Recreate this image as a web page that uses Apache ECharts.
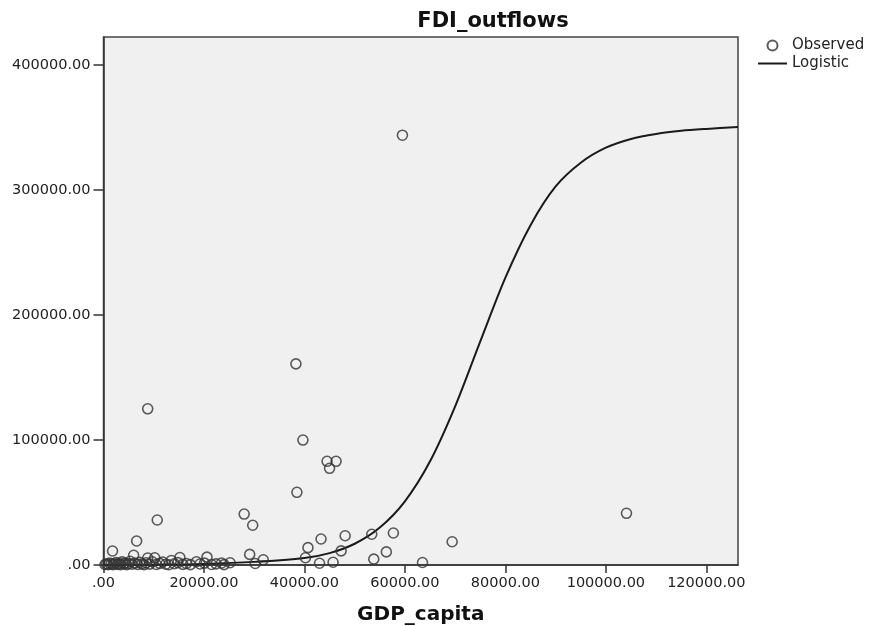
<!DOCTYPE html>
<html>
<head>
<meta charset="utf-8">
<title>FDI_outflows</title>
<script src="https://cdn.jsdelivr.net/npm/echarts@6/dist/echarts.min.js"></script>
<style>
    html, body { margin: 0; padding: 0; background: #fff; }
    #chart { width: 869px; height: 626px; }
</style>
</head>
<body>
<div id="chart"></div>
<script>
// observed points: [GDP_capita, FDI_outflows]
const observed = [
    [59500, 344000], [38300, 161000], [8800, 125000], [39700, 100000],
    [44500, 83000], [46300, 83000], [45000, 77400], [38500, 58200],
    [104100, 41400], [28000, 40800], [10700, 36000], [29700, 31800],
    [57700, 25600], [53400, 24600], [48100, 23400], [43300, 20800],
    [6600, 19200], [69400, 18600], [40700, 13900], [47300, 11300],
    [56300, 10500], [1800, 11200], [29100, 8500], [6000, 7800],
    [40200, 5800], [53800, 4700], [31800, 4200], [20600, 6300],
    [15200, 6000], [10200, 5800], [8800, 5600], [13500, 3600],
    [45700, 2200], [43000, 1400], [63500, 2000], [25200, 1800],
    [23500, 1600], [18500, 2600], [30200, 1200],
    // dense cluster along the baseline
    [300, 400], [600, 900], [900, 200], [1200, 1500], [1500, 600],
    [1900, 300], [2200, 1000], [2500, 2000], [2800, 500], [3100, 1200],
    [3400, 200], [3700, 2500], [4000, 800], [4300, 1600], [4600, 300],
    [5000, 1000], [5300, 3000], [5700, 600], [6200, 1500], [6800, 400],
    [7200, 2200], [7600, 900], [8100, 300], [8500, 1800], [9200, 700],
    [9700, 2600], [10500, 400], [11200, 1300], [11800, 2400], [12400, 600],
    [13000, 200], [14100, 1000], [14800, 1900], [15800, 500], [16500, 1200],
    [17300, 300], [19200, 800], [20100, 1500], [21500, 400], [22400, 900],
    [24000, 300]
];

// logistic curve
const curveX = [0, 10000, 20000, 30000, 40000, 45000, 50000, 55000, 60000, 65000,
    70000, 75000, 80000, 85000, 90000, 95000, 100000, 105000, 110000, 115000,
    120000, 126300];
const curveY = [100, 300, 900, 2500, 5600, 9500, 17000, 30000, 51000, 83000,
    127000, 179000, 230000, 272000, 303000, 322000, 334000, 341000, 345000, 347500,
    349000, 350500];

const xTicks = [0, 20000, 40000, 60000, 80000, 100000, 120000];
const yTicks = [0, 100000, 200000, 300000, 400000];

const INK = "#222";

function fmt(v) {
    // SPSS style: 0 shows as ".00"
    return v === 0 ? ".00" : v.toFixed(2);
}

document.addEventListener("DOMContentLoaded", function () {
    const chart = echarts.init(document.getElementById("chart"));

    const option = {
        animation: false,
        backgroundColor: "#fff",
        title: {
            text: "FDI_outflows",
            left: 488,
            textAlign: "center",
            top: 6,
            textStyle: { fontFamily: "DejaVu Sans", fontWeight: "bold", fontSize: 21, color: "#111" }
        },
        legend: {
            orient: "vertical",
            left: 752,
            top: 33,
            itemWidth: 29,
            itemHeight: 10,
            itemGap: 3,
            textStyle: { fontFamily: "DejaVu Sans", fontSize: 15, color: INK },
            data: [
                { name: "Observed", icon: "circle" },
                { name: "Logistic", itemStyle: { opacity: 0 } }
            ]
        },
        grid: {
            left: 103.5,
            right: 131,
            top: 37,
            bottom: 61,
            outerBoundsMode: "none",
            show: true,
            backgroundColor: "#f0f0f0",
            borderColor: "#444",
            borderWidth: 1.5
        },
        xAxis: {
            type: "value",
            min: 0,
            max: 126300,
            name: "GDP_capita",
            nameLocation: "middle",
            nameGap: 40,
            nameTextStyle: { fontFamily: "DejaVu Sans", fontWeight: "bold", fontSize: 20, color: "#111" },
            splitLine: { show: false },
            axisLine: { lineStyle: { color: "#333", width: 1.5 } },
            axisTick: { customValues: xTicks, length: 8, lineStyle: { color: "#333", width: 1.5 } },
            axisLabel: {
                customValues: xTicks,
                formatter: fmt,
                margin: 11,
                fontFamily: "DejaVu Sans",
                fontSize: 14.5,
                color: INK
            }
        },
        yAxis: {
            type: "value",
            min: 0,
            max: 422600,
            splitLine: { show: false },
            axisLine: { lineStyle: { color: "#333", width: 1.5 } },
            axisTick: { customValues: yTicks, length: 10, lineStyle: { color: "#333", width: 1.5 } },
            axisLabel: {
                customValues: yTicks,
                formatter: fmt,
                margin: 13,
                fontFamily: "DejaVu Sans",
                fontSize: 14.5,
                color: INK
            }
        },
        series: [
            {
                name: "Observed",
                type: "scatter",
                symbol: "circle",
                symbolSize: 10,
                itemStyle: { color: "rgba(0,0,0,0)", borderColor: "#333", borderWidth: 1.6 },
                data: observed,
                z: 3
            },
            {
                name: "Logistic",
                type: "line",
                symbol: "none",
                smooth: 0.3,
                lineStyle: { color: "#1a1a1a", width: 2 },
                itemStyle: { color: "#1a1a1a" },
                data: curveX.map(function (x, i) { return [x, curveY[i]]; }),
                z: 2
            }
        ]
    };

    chart.setOption(option);
});
</script>
</body>
</html>
